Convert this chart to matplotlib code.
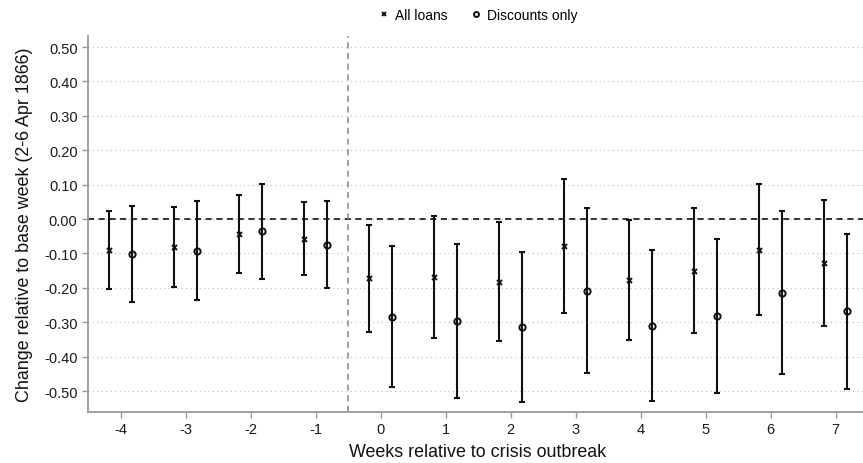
import matplotlib
matplotlib.use("Agg")
import matplotlib.pyplot as plt
import numpy as np

plt.rcParams["font.family"] = ["Liberation Sans", "DejaVu Sans"]

weeks = [-4, -3, -2, -1, 0, 1, 2, 3, 4, 5, 6, 7]

all_est = [-0.090, -0.080, -0.044, -0.057, -0.172, -0.169, -0.183, -0.078, -0.178, -0.151, -0.090, -0.127]
all_hi = [0.024, 0.036, 0.071, 0.048, -0.016, 0.010, -0.010, 0.116, -0.003, 0.031, 0.102, 0.056]
all_lo = [-0.203, -0.197, -0.156, -0.163, -0.327, -0.346, -0.355, -0.272, -0.351, -0.331, -0.279, -0.310]

disc_est = [-0.102, -0.093, -0.036, -0.075, -0.284, -0.297, -0.314, -0.208, -0.310, -0.283, -0.214, -0.267]
disc_hi = [0.039, 0.051, 0.103, 0.051, -0.078, -0.074, -0.097, 0.031, -0.090, -0.057, 0.023, -0.043]
disc_lo = [-0.242, -0.236, -0.174, -0.200, -0.489, -0.519, -0.531, -0.447, -0.528, -0.507, -0.450, -0.493]

y_ticks = [0.50, 0.40, 0.30, 0.20, 0.10, 0.00, -0.10, -0.20, -0.30, -0.40, -0.50]

fig = plt.figure(figsize=(8.63, 4.64), dpi=100)
ax = fig.add_axes([88 / 863, 51 / 464, 780 / 863, 376 / 464])

x = np.array(weeks, dtype=float)
off = 0.17


def draw(xs, est, lo, hi, marker, ms, mew, label):
    est = np.array(est)
    yerr = np.vstack([est - np.array(lo), np.array(hi) - est])
    ax.errorbar(xs, est, yerr=yerr, fmt="none", ecolor="#111111",
                elinewidth=1.5, capsize=2.3, capthick=1.5, zorder=3)
    ax.plot(xs, est, linestyle="none", marker=marker, ms=ms,
            mfc="none", mec="#111111", mew=mew, zorder=4, label=label)


draw(x - off, all_est, all_lo, all_hi, "x", 3.6, 1.4, "All loans")
draw(x + off, disc_est, disc_lo, disc_hi, "o", 4.5, 1.4, "Discounts only")

ax.axhline(0, color="black", linestyle=(0, (4, 3)), linewidth=1.1, zorder=2)
ax.axvline(-0.5, color="#888888", linestyle=(0, (4, 3)), linewidth=1.1, zorder=2)

ax.set_xlim(-4.5, 7.5)
ax.set_ylim(-0.561, 0.532)
ax.set_xticks(weeks)
ax.set_xticklabels([str(w) for w in weeks])
ax.set_yticks(y_ticks)
ax.set_yticklabels([f"{v:.2f}" for v in y_ticks])
ax.yaxis.grid(True, color="#bbbbbb", linestyle=(0, (1, 3)), linewidth=0.8)
ax.set_axisbelow(True)

for s in ["top", "right"]:
    ax.spines[s].set_visible(False)
for s in ["left", "bottom"]:
    ax.spines[s].set_color("#999999")
    ax.spines[s].set_linewidth(1.3)
ax.tick_params(axis="both", colors="#999999", labelcolor="#1a1a1a",
               labelsize=10.5, length=4, width=1)

ax.set_xlabel("Weeks relative to crisis outbreak", fontsize=12.9, color="#111111", labelpad=5)
ax.set_ylabel("Change relative to base week (2-6 Apr 1866)", fontsize=12.9, color="#111111", labelpad=8)

fig.legend(loc="center", bbox_to_anchor=(477 / 863, 1 - 16 / 464), ncol=2,
           frameon=False, fontsize=10, handletextpad=0.3, columnspacing=1.55,
           handlelength=1.0, markerscale=0.8)

fig.savefig("out.png", dpi=100)
